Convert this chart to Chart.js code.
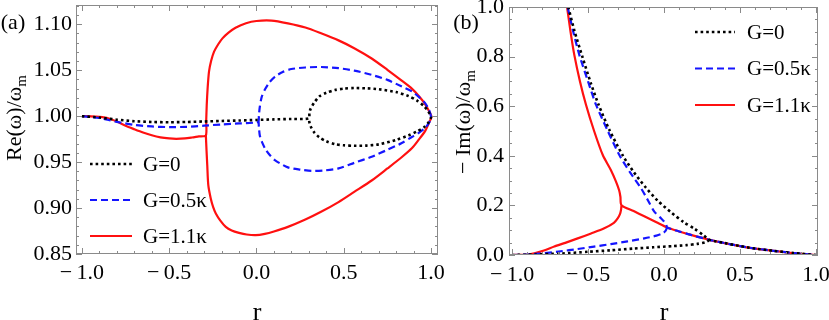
<!DOCTYPE html>
<html>
<head>
<meta charset="utf-8">
<script src="https://cdn.jsdelivr.net/npm/chart.js@4.4.1/dist/chart.umd.min.js"></script>
<style>
body { margin: 0; background: #fff; }
#wrap { position: relative; width: 829px; height: 320px; overflow: hidden; font-family: 'Liberation Serif', 'Times New Roman', serif; }
#boxA { position: absolute; left: 0; top: 0; width: 445px; height: 320px; }
#boxB { position: absolute; left: 445px; top: 0; width: 384px; height: 320px; }
.lbl { position: absolute; font-size: 22px; line-height: 1; color: #000; white-space: nowrap; transform: translate(-50%, -50%); }
.ytitle { transform: translate(-50%, -50%) rotate(-90deg); }
.lbl sub { font-size: 15px; }
</style>
</head>
<body>
<div id="wrap">
  <div id="boxA"><canvas id="chartA"></canvas></div>
  <div id="boxB"><canvas id="chartB"></canvas></div>
  <div class="lbl" style="left:13px; top:22px">(a)</div>
  <div class="lbl" style="left:466px; top:22px">(b)</div>
  <div class="lbl ytitle" style="left:16px; top:118px">Re(ω)/ω<sub>m</sub></div>
  <div class="lbl ytitle" style="left:465px; top:122px">− Im(ω)/ω<sub>m</sub></div>
  <div class="lbl" style="left:257px; top:312px; font-size:26px">r</div>
  <div class="lbl" style="left:664px; top:312px; font-size:26px">r</div>
</div>
<script>
// labels
const gLabels = ['G=0', 'G=0.5κ', 'G=1.1κ'];
const rTicks = [-1.0, -0.5, 0.0, 0.5, 1.0];
const reTicks = [0.85, 0.90, 0.95, 1.00, 1.05, 1.10];
const imTicks = [0.0, 0.2, 0.4, 0.6, 0.8, 1.0];

// (a) Re(w)/wm, G=0 : common part, upper branch, lower branch back to the EP
const aR_G0 = [-1.0, -0.9, -0.8, -0.7, -0.6, -0.5, -0.4, -0.3, -0.2, -0.1, 0.0, 0.1, 0.2, 0.3,
  0.303, 0.31, 0.33, 0.36, 0.4, 0.45, 0.5, 0.56, 0.63, 0.7, 0.8, 0.87, 0.92, 0.96, 0.985, 1.0,
  0.985, 0.96, 0.92, 0.87, 0.8, 0.7, 0.63, 0.56, 0.5, 0.45, 0.4, 0.36, 0.33, 0.31, 0.303, 0.3];
const aRe_G0 = [1.000, 0.9985, 0.9962, 0.9945, 0.9937, 0.9934, 0.9937, 0.9942, 0.9948, 0.9953, 0.9959, 0.9965, 0.9970, 0.9976,
  1.0035, 1.008, 1.0145, 1.0215, 1.0255, 1.0285, 1.0300, 1.0306, 1.0303, 1.0293, 1.0262, 1.0220, 1.0170, 1.0110, 1.0050, 0.9990,
  0.9930, 0.9880, 0.9835, 0.9790, 0.9742, 0.9693, 0.9680, 0.9678, 0.9683, 0.9695, 0.9727, 0.9770, 0.9825, 0.9890, 0.9935, 0.9976];

// (a) G=0.5k
const aR_G05 = [-1.0, -0.9, -0.8, -0.7, -0.6, -0.5, -0.4, -0.3, -0.2, -0.1, 0.0, 0.012,
  0.014, 0.019, 0.03, 0.05, 0.075, 0.105, 0.15, 0.2, 0.28, 0.37, 0.47, 0.56, 0.66, 0.75, 0.83, 0.89, 0.93, 0.965, 0.988, 1.0,
  0.988, 0.965, 0.93, 0.89, 0.83, 0.75, 0.66, 0.56, 0.47, 0.39, 0.315, 0.25, 0.18, 0.105, 0.075, 0.05, 0.03, 0.019, 0.014, 0.012];
const aRe_G05 = [1.000, 0.9980, 0.9938, 0.9905, 0.9888, 0.9881, 0.9884, 0.9897, 0.9910, 0.9921, 0.9932, 0.9945,
  1.001, 1.010, 1.021, 1.0295, 1.037, 1.0429, 1.048, 1.0513, 1.053, 1.0535, 1.0522, 1.0496, 1.045, 1.0395, 1.0325, 1.027, 1.021, 1.0145, 1.007, 0.999,
  0.9925, 0.987, 0.9818, 0.9773, 0.9705, 0.9634, 0.9558, 0.9492, 0.9432, 0.941, 0.9405, 0.9418, 0.9443, 0.9522, 0.958, 0.9645, 0.9725, 0.979, 0.988, 0.9945];

// (a) G=1.1k
const aR_G11 = [-1.0, -0.95, -0.9, -0.85, -0.8, -0.75, -0.7, -0.65, -0.6, -0.55, -0.5, -0.46, -0.41, -0.37, -0.33, -0.29,
  -0.288, -0.285, -0.28, -0.272, -0.26, -0.243, -0.22, -0.195, -0.16, -0.12, -0.06, 0.0, 0.086, 0.18, 0.28, 0.37, 0.47, 0.56, 0.66, 0.75, 0.83, 0.89, 0.93, 0.965, 0.99, 1.003,
  0.99, 0.965, 0.93, 0.89, 0.83, 0.75, 0.66, 0.56, 0.47, 0.37, 0.28, 0.18, 0.1, 0.048, -0.004, -0.056, -0.1, -0.142, -0.176, -0.207, -0.233, -0.248, -0.262, -0.276, -0.282, -0.286, -0.29];
const aRe_G11 = [1.000, 0.9998, 0.9992, 0.9978, 0.9942, 0.9896, 0.9858, 0.9822, 0.9792, 0.9770, 0.9758, 0.9754, 0.9758, 0.9768, 0.9780, 0.9791,
  0.995, 1.0121, 1.030, 1.0484, 1.060, 1.0702, 1.078, 1.0847, 1.091, 1.0963, 1.1012, 1.1036, 1.104, 1.101, 1.0965, 1.0902, 1.0825, 1.074, 1.0628, 1.0505, 1.039, 1.030, 1.022, 1.0135, 1.005, 0.9993,
  0.9935, 0.9835, 0.9745, 0.965, 0.955, 0.9431, 0.930, 0.9176, 0.9065, 0.8959, 0.8875, 0.8795, 0.8745, 0.8719, 0.8705, 0.8712, 0.873, 0.8756, 0.8795, 0.8863, 0.8941, 0.901, 0.9105, 0.9249, 0.9467, 0.962, 0.9791];

// (b) -Im(w)/wm, merged part (same for all G beyond each EP)
const bTailR = [-0.28, -0.2, -0.13, -0.05, 0.02, 0.1, 0.171, 0.3, 0.4, 0.5, 0.6, 0.72, 0.85, 1.0];
const bTailIm = [0.201, 0.177, 0.156, 0.132, 0.111, 0.095, 0.082, 0.061, 0.048, 0.036, 0.026, 0.017, 0.008, 0.0];

// (b) G=0
const bUpR_G0 = [-0.63, -0.59, -0.535, -0.48, -0.43, -0.36, -0.27, -0.2, -0.12, -0.04, 0.05, 0.13, 0.2, 0.26, 0.3];
const bUpIm_G0 = [1.0, 0.905, 0.795, 0.69, 0.605, 0.505, 0.4, 0.335, 0.272, 0.218, 0.17, 0.132, 0.106, 0.079, 0.061];
const bLoR_G0 = [-1.0, -0.85, -0.68, -0.5, -0.35, -0.2, -0.07, 0.06, 0.15, 0.22, 0.27, 0.3];
const bLoIm_G0 = [0.0, 0.002, 0.006, 0.013, 0.019, 0.026, 0.031, 0.036, 0.04, 0.045, 0.051, 0.061];

// (b) G=0.5k
const bUpR_G05 = [-0.634, -0.6, -0.557, -0.5, -0.447, -0.37, -0.294, -0.22, -0.151, -0.1, -0.064, -0.02, 0.0, 0.015, 0.02];
const bUpIm_G05 = [1.0, 0.907, 0.806, 0.7, 0.605, 0.5, 0.403, 0.33, 0.269, 0.214, 0.175, 0.148, 0.135, 0.122, 0.111];
const bLoR_G05 = [-1.0, -0.9, -0.79, -0.68, -0.57, -0.46, -0.35, -0.24, -0.13, -0.05, -0.01, 0.01, 0.02];
const bLoIm_G05 = [0.0, 0.002, 0.007, 0.015, 0.024, 0.034, 0.044, 0.055, 0.067, 0.078, 0.087, 0.097, 0.111];

// (b) G=1.1k
const bUpR_G11 = [-0.638, -0.615, -0.59, -0.553, -0.513, -0.46, -0.403, -0.35, -0.316, -0.295, -0.287, -0.28];
const bUpIm_G11 = [1.0, 0.9, 0.806, 0.7, 0.605, 0.5, 0.403, 0.343, 0.296, 0.26, 0.235, 0.201];
const bLoR_G11 = [-1.0, -0.92, -0.853, -0.79, -0.722, -0.65, -0.568, -0.48, -0.393, -0.33, -0.305, -0.29, -0.283, -0.28];
const bLoIm_G11 = [0.0, 0.001, 0.007, 0.018, 0.034, 0.049, 0.067, 0.087, 0.108, 0.13, 0.148, 0.165, 0.182, 0.201];

Chart.defaults.font.family = "'Liberation Serif', 'Times New Roman', serif";
Chart.defaults.font.size = 22;
Chart.defaults.color = '#000';

function pts(rs, vs) {
    return rs.map((r, i) => ({x: r, y: vs[i]}));
}

// upper branch, then the merged tail from the EP, a gap, then the lower branch
function branchData(upR, upIm, loR, loIm) {
    const ep = upR[upR.length - 1];
    const tail = pts(bTailR, bTailIm).filter(p => p.x > ep + 1e-6);
    return pts(upR, upIm).concat(tail, [{x: ep, y: null}], pts(loR, loIm));
}

function makeSets(d0, d1, d2) {
    return [
        {label: gLabels[0], data: d0, borderColor: '#000000', borderWidth: 2.6, borderDash: [2.6, 3]},
        {label: gLabels[1], data: d1, borderColor: '#1515ff', borderWidth: 2.2, borderDash: [7, 4]},
        {label: gLabels[2], data: d2, borderColor: '#ff1010', borderWidth: 2.2}
    ].map(s => Object.assign(s, {showLine: true, pointRadius: 0, fill: false, tension: 0.25, spanGaps: false}));
}

function fmtR(v) {
    return v < 0 ? '\u2212\u2009' + Math.abs(v).toFixed(1) : v.toFixed(1);
}

// frame with inward ticks on all four sides
const frameTicks = {
    id: 'frameTicks',
    afterDatasetsDraw(chart, args, opts) {
        const {ctx, chartArea: a, scales} = chart;
        ctx.save();
        ctx.strokeStyle = '#8a8a8a';
        ctx.lineWidth = 1;
        ctx.strokeRect(a.left + 0.5, a.top + 0.5, a.right - a.left - 1, a.bottom - a.top - 1);
        ctx.beginPath();
        const xs = [[opts.xMajor, 6], [opts.xMinor, 3]];
        xs.forEach(([vals, len]) => vals.forEach(v => {
            const px = Math.round(scales.x.getPixelForValue(v)) + 0.5;
            ctx.moveTo(px, a.bottom); ctx.lineTo(px, a.bottom - len);
            ctx.moveTo(px, a.top); ctx.lineTo(px, a.top + len);
        }));
        const ys = [[opts.yMajor, 6], [opts.yMinor, 3]];
        ys.forEach(([vals, len]) => vals.forEach(v => {
            const py = Math.round(scales.y.getPixelForValue(v)) + 0.5;
            ctx.moveTo(a.left, py); ctx.lineTo(a.left + len, py);
            ctx.moveTo(a.right, py); ctx.lineTo(a.right - len, py);
        }));
        ctx.stroke();
        ctx.restore();
    }
};

// legend drawn inside the plot
const innerLegend = {
    id: 'innerLegend',
    afterDatasetsDraw(chart, args, opts) {
        const ctx = chart.ctx;
        chart.data.datasets.forEach((ds, i) => {
            const y = opts.y + i * opts.gap;
            ctx.save();
            ctx.strokeStyle = ds.borderColor;
            ctx.lineWidth = ds.borderWidth;
            ctx.setLineDash(ds.borderDash || []);
            ctx.beginPath();
            ctx.moveTo(opts.x, y);
            ctx.lineTo(opts.x + opts.len, y);
            ctx.stroke();
            ctx.setLineDash([]);
            ctx.fillStyle = '#000';
            ctx.font = "21px 'Liberation Serif'";
            ctx.textBaseline = 'middle';
            ctx.fillText(ds.label, opts.x + opts.len + opts.textGap, y + 1);
            ctx.restore();
        });
    }
};

function steps(from, to, step) {
    const out = [];
    for (let v = from; v <= to + 1e-9; v += step) out.push(Math.round(v * 1000) / 1000);
    return out;
}

function makeChart(id, datasets, cfg) {
    return new Chart(document.getElementById(id), {
        type: 'scatter',
        data: {datasets: datasets},
        plugins: [frameTicks, innerLegend],
        options: {
            responsive: true,
            maintainAspectRatio: false,
            animation: false,
            layout: {padding: cfg.padding},
            plugins: {
                legend: {display: false},
                tooltip: {enabled: false},
                frameTicks: cfg.frame,
                innerLegend: cfg.legend
            },
            scales: {
                x: {
                    type: 'linear',
                    min: cfg.xMin,
                    max: cfg.xMax,
                    grid: {display: false, drawTicks: false},
                    border: {display: false},
                    ticks: {padding: cfg.xPad, autoSkip: false, maxRotation: 0, callback: v => fmtR(v)},
                    afterBuildTicks: s => { s.ticks = rTicks.map(v => ({value: v})); },
                    afterFit: s => { s.height = cfg.xHeight; s.paddingLeft = 0; s.paddingRight = 0; }
                },
                y: {
                    type: 'linear',
                    min: cfg.yMin,
                    max: cfg.yMax,
                    grid: {display: false, drawTicks: false},
                    border: {display: false},
                    ticks: {padding: cfg.yPad, autoSkip: false, callback: v => v.toFixed(cfg.yDigits)},
                    afterBuildTicks: s => { s.ticks = cfg.yTicks.map(v => ({value: v})); },
                    afterFit: s => { s.width = cfg.yWidth; s.paddingTop = 0; s.paddingBottom = 0; }
                }
            }
        }
    });
}

makeChart('chartA', makeSets(pts(aR_G0, aRe_G0), pts(aR_G05, aRe_G05), pts(aR_G11, aRe_G11)), {
    padding: {left: 0, right: 7, top: 5, bottom: 0},
    xMin: -1.034, xMax: 1.04, yMin: 0.85, yMax: 1.121,
    xHeight: 66, yWidth: 76, xPad: 6, yPad: 4, yDigits: 2, yTicks: reTicks,
    frame: {xMajor: rTicks, xMinor: steps(-1, 1, 0.1), yMajor: reTicks, yMinor: steps(0.85, 1.12, 0.01)},
    legend: {x: 90, y: 164, gap: 36, len: 42, textGap: 11}
});

makeChart('chartB', makeSets(
    branchData(bUpR_G0, bUpIm_G0, bLoR_G0, bLoIm_G0),
    branchData(bUpR_G05, bUpIm_G05, bLoR_G05, bLoIm_G05),
    branchData(bUpR_G11, bUpIm_G11, bLoR_G11, bLoIm_G11)), {
    padding: {left: 0, right: 11, top: 7, bottom: 0},
    xMin: -1.02, xMax: 1.013, yMin: 0, yMax: 1,
    xHeight: 65, yWidth: 64, xPad: 7, yPad: 5, yDigits: 1, yTicks: imTicks,
    frame: {xMajor: rTicks, xMinor: steps(-1, 1, 0.1), yMajor: imTicks, yMinor: steps(0, 1, 0.05)},
    legend: {x: 250, y: 32, gap: 36.5, len: 40, textGap: 12}
});
</script>
</body>
</html>
